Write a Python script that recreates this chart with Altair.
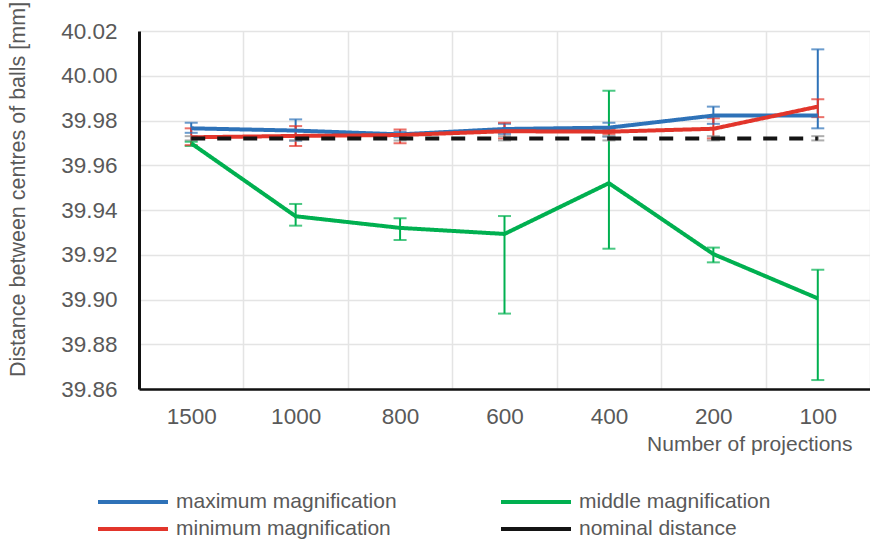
import altair as alt
import pandas as pd

categories = ["1500", "1000", "800", "600", "400", "200", "100"]
series_names = ["maximum magnification", "minimum magnification",
                "middle magnification", "nominal distance"]

max_mean = [39.9765, 39.9755, 39.9738, 39.9762, 39.9768, 39.9822, 39.9822]
max_lo = [39.9745, 39.9710, 39.9725, 39.9740, 39.9728, 39.9785, 39.9765]
max_hi = [39.9790, 39.9805, 39.9750, 39.9785, 39.9790, 39.9862, 40.0118]

mid_mean = [39.9698, 39.9372, 39.9320, 39.9293, 39.9520, 39.9203, 39.9005]
mid_lo = [39.9686, 39.9330, 39.9266, 39.8937, 39.9227, 39.9166, 39.8640]
mid_hi = [39.9705, 39.9427, 39.9363, 39.9373, 39.9933, 39.9232, 39.9133]

min_mean = [39.9725, 39.9731, 39.9735, 39.9752, 39.9750, 39.9763, 39.9862]
min_lo = [39.9690, 39.9686, 39.9698, 39.9720, 39.9740, 39.9720, 39.9815]
min_hi = [39.9765, 39.9775, 39.9760, 39.9790, 39.9760, 39.9810, 39.9895]

nom_mean = [39.9720] * 7
nom_lo = [39.9711] * 7
nom_hi = [39.9730] * 7

rows = []
for name, m, lo, hi in [
    ("maximum magnification", max_mean, max_lo, max_hi),
    ("middle magnification", mid_mean, mid_lo, mid_hi),
    ("minimum magnification", min_mean, min_lo, min_hi),
    ("nominal distance", nom_mean, nom_lo, nom_hi),
]:
    for c, a, b, d in zip(categories, m, lo, hi):
        rows.append({"proj": c, "series": name, "value": a, "lo": b, "hi": d})
df = pd.DataFrame(rows)

# colours in the order of series_names
line_colors = ["#2E72B8", "#E2352B", "#00B050", "#141414"]
bar_colors = ["#2E72B8", "#E2352B", "#00B050", "#8C8C8C"]
dashes = [[1, 0], [1, 0], [1, 0], [14, 12]]

x_enc = alt.X(
    "proj:N", sort=categories, title="Number of projections",
    scale=alt.Scale(type="band", paddingInner=0, paddingOuter=0),
    axis=alt.Axis(
        tickBand="extent", ticks=False, labelAngle=0, labelFontSize=22.5,
        labelColor="#595959", labelPadding=16, domainColor="#111111",
        domainWidth=2.5, gridColor="#e4e4e4", gridWidth=1.5, grid=True,
        titleFontSize=21, titleFontWeight="normal", titleColor="#595959",
        titleAnchor="end", titleAlign="right", titleX=713, titleY=61,
        titleBaseline="alphabetic",
    ),
)
y_scale = alt.Scale(domain=[39.86, 40.02], nice=False, zero=False)
y_enc = alt.Y(
    "value:Q", scale=y_scale, title="Distance between centres of balls [mm]",
    axis=alt.Axis(
        values=[39.86, 39.88, 39.90, 39.92, 39.94, 39.96, 39.98, 40.00, 40.02],
        format=".2f", ticks=False, labelFontSize=22.5, labelColor="#595959",
        labelPadding=22, domainColor="#111111", domainWidth=3,
        gridColor="#e4e4e4", gridWidth=1.5,
        titleFontSize=21.5, titleFontWeight="normal", titleColor="#595959",
        titleAngle=270, titleX=-121, titleY=158, titleAlign="center",
        titleBaseline="middle",
    ),
)

bar_color = alt.Color("series:N", scale=alt.Scale(domain=series_names, range=bar_colors), legend=None)

rules = alt.Chart(df).mark_rule(strokeWidth=2).encode(
    x=x_enc, y=alt.Y("lo:Q", scale=y_scale), y2="hi:Q", color=bar_color,
)
ticks_lo = alt.Chart(df).mark_tick(size=13, thickness=2).encode(
    x=x_enc, y=alt.Y("lo:Q", scale=y_scale), color=bar_color,
)
ticks_hi = alt.Chart(df).mark_tick(size=13, thickness=2).encode(
    x=x_enc, y=alt.Y("hi:Q", scale=y_scale), color=bar_color,
)
bars = alt.layer(rules, ticks_lo, ticks_hi)

legend_cfg = alt.Legend(
    orient="none", legendX=-18, legendY=459, columns=2,
    symbolType="M-3.5,0H3.5", symbolSize=400, symbolStrokeWidth=4,
    labelFontSize=21, labelColor="#595959", labelOffset=31,
    columnPadding=96, rowPadding=5, labelLimit=400,
)

lines = alt.Chart(df).mark_line(strokeWidth=4).encode(
    x=x_enc, y=y_enc,
    color=alt.Color("series:N", scale=alt.Scale(domain=series_names, range=line_colors),
                    title=None, legend=legend_cfg),
    strokeDash=alt.StrokeDash("series:N", scale=alt.Scale(domain=series_names, range=dashes),
                              title=None, legend=None),
    detail="series:N",
)

chart = alt.layer(bars, lines).resolve_scale(color="independent").properties(
    width=731, height=358,
    autosize=alt.AutoSizeParams(type="none"),
    padding={"left": 139, "top": 31, "right": 0, "bottom": 151},
).configure(font="Liberation Sans").configure_view(stroke=None)

chart.save("out.html", embed_options={"renderer": "svg", "actions": False})
